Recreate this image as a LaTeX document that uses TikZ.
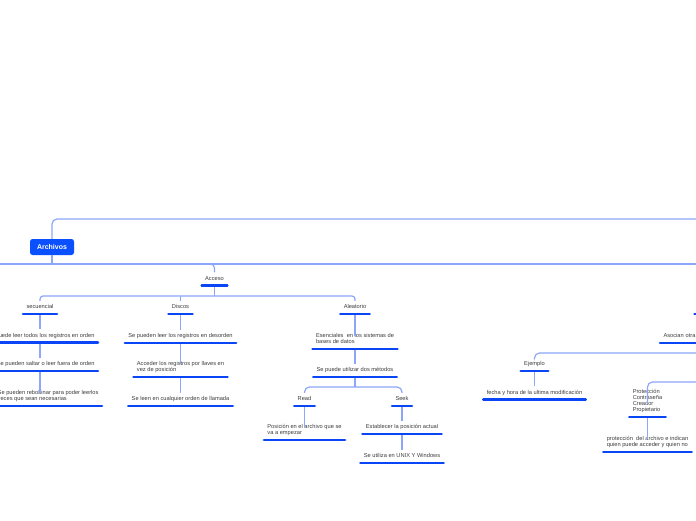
\documentclass[tikz,border=0pt]{standalone}
\usepackage{fontspec}
\setmainfont{Liberation Sans}
\usetikzlibrary{calc}
\definecolor{ulblue}{RGB}{10,70,245}
\definecolor{connblue}{RGB}{140,166,250}
\definecolor{archblue}{RGB}{10,80,255}
\definecolor{txtgray}{RGB}{60,60,60}
\tikzset{
  topic/.style={inner xsep=3.3pt, inner ysep=3.5pt, text depth=1.5pt, text height=4.3pt,
    font=\fontsize{5.7}{6}\selectfont, text=txtgray, align=left, anchor=south},
  ul/.style={draw=ulblue, line width=2.6pt, line cap=round},
  conn/.style={draw=connblue, line width=1.2pt, rounded corners=4pt},
  rootbox/.style={fill=archblue, rounded corners=2.5pt, text=white, font=\fontsize{7}{8}\selectfont\bfseries,
    minimum width=44pt, minimum height=16pt, inner sep=0pt},
}
\begin{document}
\begin{tikzpicture}[x=1pt,y=-1pt]
\useasboundingbox (0,0) rectangle (696,520);
% root
\node[rootbox] (arch) at (52,247) {Archivos};
\coordinate (topR) at (705,219);
\coordinate (botL) at (-10,264);
\coordinate (botR) at (705,264);
\draw[conn, rounded corners=5pt] (arch.north) -- (arch.north |- topR) -- (topR);
\draw[conn] (botL) -- (botR);
\draw[conn] (arch.south) -- (arch.south |- botL);

% Acceso branch
\node[topic] (acc) at (214.5,285.5) {Acceso};
\draw[conn] ($(acc.north |- botL)+(-8,0)$) -- (acc.north |- botL) -- (acc.north);
\coordinate (bus1) at (0,296);
\node[topic] (sec) at (40,314) {secuencial};
\node[topic] (dis) at (180.5,314) {Discos};
\node[topic] (ale) at (355,314) {Aleatorio};
\draw[conn] (acc.south) -- (acc.south |- bus1);
\draw[conn, rounded corners=3pt] (sec.north) -- (sec.north |- bus1) -- (ale.north |- bus1) -- (ale.north);
\draw[conn] (dis.north) -- (dis.north |- bus1);

% secuencial children
\node[topic, anchor=south east] (s1) at (98,342.5) {Se puede leer todos los registros en orden};
\node[topic, anchor=south east] (s2) at (98,371) {Se pueden saltar o leer fuera de orden};
\node[topic, anchor=south east] (s3) at (102,406) {Se pueden rebobinar para poder leerlos\\veces que sean necesarias};
\draw[conn] (sec.south) -- (sec.south |- s1.north);
\draw[conn] (sec.south |- s1.south) -- (sec.south |- s2.north);
\draw[conn] (sec.south |- s2.south) -- (sec.south |- s3.north);

% Discos children
\node[topic] (d1) at (180.5,343) {Se pueden leer los registros en desorden};
\node[topic] (d2) at (180.5,377) {Acceder los registros por llaves en\\vez de posición};
\node[topic] (d3) at (180.5,406) {Se leen en cualquier orden de llamada};
\draw[conn] (dis.south) -- (d1.north);
\draw[conn] (d1.south) -- (d2.north);
\draw[conn] (d2.south) -- (d3.north);

% Aleatorio children
\node[topic] (a1) at (355,349) {Esenciales\ \ en los sistemas de\\bases de datos};
\node[topic] (a2) at (355,377) {Se puede utilizar dos métodos};
\draw[conn] (ale.south) -- (a1.north);
\draw[conn] (a1.south) -- (a2.north);
\coordinate (bus2) at (0,387);
\node[topic] (rd) at (304.5,406) {Read};
\node[topic] (sk) at (402,406) {Seek};
\draw[conn] (a2.south) -- (a2.south |- bus2);
\draw[conn, rounded corners=5pt] (rd.north) -- (rd.north |- bus2) -- (sk.north |- bus2) -- (sk.north);
\node[topic] (r1) at (304.5,440) {Posición en el archivo que se\\va a empezar};
\node[topic] (k1) at (402,434) {Establecer la posición actual};
\node[topic] (k2) at (402,463) {Se utiliza en UNIX Y Windows};
\draw[conn] (rd.south) -- (r1.north);
\draw[conn] (sk.south) -- (k1.north);
\draw[conn] (k1.south) -- (k2.north);

% right side (partly outside)
\coordinate (hid) at (694.5,314);
\draw[ul] (hid) -- ++(10,0);
\node[topic, anchor=south west, text width=50pt] (aso) at (660,343) {Asocian otra};
\coordinate (e1) at (705,353);
\node[topic] (ej) at (534.5,371) {Ejemplo};
\draw[conn, rounded corners=5pt] (e1) -- (ej.north |- e1) -- (ej.north);
\node[topic] (fe) at (534.5,399.5) {fecha y hora de la ultima modificación};
\draw[conn] (ej.south) -- (fe.north);
\coordinate (e2) at (705,382);
\node[topic] (pr) at (647.5,417) {Protección\\Contraseña\\Creador\\Propietario};
\draw[conn, rounded corners=5pt] (e2) -- (pr.north |- e2) -- (pr.north);
\node[topic] (pp) at (647.5,452) {protección\ \ del archivo e indican\\quien puede acceder y quien no};
\draw[conn] (pr.south) -- (pp.north);

% underlines
\foreach \n in {acc,sec,dis,ale,s1,s2,s3,d1,d2,d3,a1,a2,rd,sk,r1,k1,k2,aso,ej,fe,pr,pp}
  \draw[ul] (\n.south west) -- (\n.south east);
\end{tikzpicture}
\end{document}
